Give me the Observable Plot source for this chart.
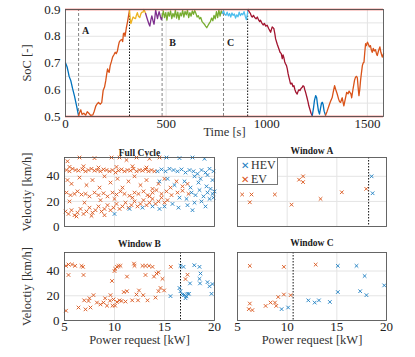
<!DOCTYPE html>
<html><head><meta charset="utf-8">
<script src="https://cdn.jsdelivr.net/npm/d3@7"></script>
<script src="https://cdn.jsdelivr.net/npm/@observablehq/plot@0.6"></script>
<style>
body{margin:0;background:#fff;}
#wrap{position:relative;width:415px;height:357px;overflow:hidden;font-family:"Liberation Serif",serif;background:#fff;}
.p{position:absolute;}
.p svg{overflow:visible;font-family:"Liberation Serif",serif !important;}
.p svg text{font-family:"Liberation Serif",serif;}
.legend{position:absolute;left:237px;top:157px;width:41px;height:28px;border:1px solid #777;background:#fff;box-sizing:border-box;font-size:12px;line-height:12px;padding:1px 0 0 3px;color:#333;}
.legend span{font-size:10px;margin-right:2px;}
</style></head><body><div id="wrap"></div>
<script>
// ---------- SoC trajectory segments [time s, SoC] ----------
const seg1 = [[0,0.70],[8,0.685],[14,0.665],[18,0.65],[26,0.635],[35,0.605],[45,0.575],[55,0.54],[65,0.502]];
const seg2 = [[65,0.502],[70,0.515],[76,0.525],[82,0.508],[91,0.512],[100,0.505],[108,0.518],[116,0.512],[125,0.504],[136,0.506],[143,0.52],[151,0.54],[158,0.548],[164,0.553],[172,0.546],[180,0.552],[187,0.597],[194,0.61],[200,0.634],[205,0.66],[209,0.678],[213,0.668],[217,0.665],[222,0.69],[228,0.705],[234,0.722],[240,0.73],[247,0.74],[252,0.735],[258,0.745],[263,0.765],[267,0.778],[273,0.785],[280,0.788],[284,0.78],[288,0.81],[292,0.812],[296,0.80],[302,0.83],[308,0.853],[313,0.875],[318,0.898]];
const seg3 = [[318,0.898],[322,0.86],[325,0.847],[330,0.86],[336,0.872],[342,0.868],[348,0.866],[352,0.878],[357,0.888],[362,0.875],[369,0.87],[375,0.885],[380,0.89],[385,0.89],[390,0.9],[398,0.885]];
const seg4 = [[398,0.885],[404,0.87],[410,0.856],[415,0.845],[419,0.838],[424,0.86],[429,0.876],[434,0.86],[440,0.845],[444,0.87],[448,0.898],[453,0.88],[457,0.866],[461,0.88],[465,0.892],[471,0.875],[476,0.862],[480,0.872]];
const seg5 = [[480,0.872],[486,0.895],[492,0.87],[498,0.888],[504,0.86],[510,0.89],[516,0.875],[522,0.895],[528,0.866],[534,0.885],[540,0.872],[546,0.898],[552,0.868],[558,0.89],[564,0.862],[570,0.887],[576,0.876],[582,0.897],[588,0.872],[594,0.893],[600,0.88],[606,0.898],[612,0.87],[618,0.888],[624,0.875],[630,0.895],[636,0.882],[642,0.896],[648,0.885],[654,0.872],[660,0.877],[666,0.865],[672,0.87],[678,0.856],[684,0.85],[690,0.845],[696,0.838],[702,0.832],[708,0.84],[714,0.848],[720,0.855],[726,0.868],[732,0.858],[738,0.878],[744,0.865],[750,0.892],[756,0.87],[762,0.898],[768,0.875],[774,0.895],[779,0.885]];
const seg6 = [[779,0.885],[785,0.895],[791,0.882],[797,0.878],[803,0.89],[809,0.876],[815,0.885],[821,0.872],[827,0.887],[833,0.878],[839,0.883],[845,0.868],[851,0.88],[857,0.873],[863,0.89],[869,0.877],[875,0.885],[881,0.88],[887,0.892],[893,0.875],[899,0.862],[904,0.885],[907,0.9]];
const seg7 = [[907,0.9],[912,0.893],[918,0.886],[924,0.875],[928,0.872],[934,0.878],[940,0.87],[947,0.865],[953,0.872],[960,0.86],[965,0.855],[969,0.86],[975,0.85],[982,0.842],[988,0.848],[995,0.838],[1002,0.841],[1010,0.828],[1019,0.815],[1027,0.835],[1035,0.829],[1040,0.81],[1044,0.79],[1052,0.77],[1060,0.753],[1066,0.74],[1072,0.735],[1077,0.716],[1081,0.73],[1085,0.72],[1089,0.705],[1093,0.697],[1098,0.69],[1102,0.678],[1106,0.66],[1110,0.647],[1114,0.635],[1118,0.622],[1125,0.625],[1130,0.612],[1135,0.615],[1140,0.6],[1145,0.59],[1151,0.584],[1156,0.595],[1160,0.6],[1165,0.597],[1170,0.605],[1176,0.609],[1180,0.615],[1185,0.612],[1189,0.6],[1193,0.59],[1200,0.57],[1205,0.555],[1209,0.54],[1215,0.525],[1220,0.512],[1226,0.503]];
const seg8 = [[1226,0.503],[1232,0.53],[1237,0.56],[1243,0.578],[1248,0.57],[1252,0.545],[1257,0.52],[1262,0.509],[1267,0.53],[1272,0.55],[1276,0.553],[1280,0.545],[1285,0.52],[1292,0.505]];
const seg9 = [[1292,0.505],[1300,0.52],[1309,0.54],[1316,0.555],[1325,0.571],[1330,0.59],[1337,0.615],[1343,0.6],[1350,0.584],[1357,0.565],[1362,0.555],[1367,0.553],[1372,0.565],[1375,0.57],[1380,0.55],[1383,0.54],[1390,0.565],[1397,0.59],[1404,0.585],[1409,0.595],[1413,0.59],[1418,0.585],[1422,0.57],[1428,0.6],[1436,0.635],[1441,0.647],[1446,0.65],[1450,0.645],[1455,0.6],[1458,0.578],[1462,0.6],[1466,0.635],[1470,0.66],[1475,0.69],[1479,0.7],[1483,0.703],[1487,0.74],[1491,0.772],[1495,0.765],[1500,0.778],[1505,0.77],[1510,0.76],[1515,0.765],[1520,0.748],[1524,0.74],[1529,0.755],[1534,0.745],[1540,0.75],[1545,0.735],[1549,0.728],[1555,0.745],[1562,0.76],[1567,0.74],[1574,0.722],[1580,0.735]];
const segments = [seg1, seg2, seg3, seg4, seg5, seg6, seg7, seg8, seg9];
const segColors = ["#0072BD","#D95319","#EDB120","#7E2F8E","#77AC30","#4DBEEE","#A2142F","#0072BD","#D95319"];

const socLimits = [0.5, 0.9];
const windowStarts = [65, 480, 785];
const windowEnds = [318, 905];
const windowLabels = [{t:100, s:0.82, text:"A"},{t:532, s:0.776, text:"B"},{t:820, s:0.776, text:"C"}];
const timeTicks = [0, 500, 1000, 1500];
const socTicks = [0.5, 0.6, 0.7, 0.8, 0.9];
const socGrid = [0.55, 0.6, 0.65, 0.7, 0.75, 0.8, 0.85];

// ---------- Scatter data [power kW, velocity km/h] ----------
const fullEV = [[5.3,52],[6.5,55],[8,54.5],[9.7,55],[10.5,55],[11.2,53],[12.2,55],[13.5,54],[14.5,55],
[5.2,45],[5.5,44],[5.8,46],[6.1,45],[6.4,44.5],[6.8,45.5],[7.1,44],[7.4,45],[7.7,46],[8.0,44.5],[8.3,45],[8.6,44],[8.9,45.5],[9.2,45],[9.5,44],[9.8,45],[10.1,43],[10.4,44.5],[10.7,45.5],[11.0,44],[11.3,45],[11.6,44.5],[11.9,46],[12.2,44],[12.5,45],[12.8,44.5],[13.1,45.5],[13.4,44],[13.7,45],[14.0,44],
[5.5,47.5],[6.9,48],[8.4,47],[10.2,47.5],[11.8,48],[13.2,47],
[5.3,37],[5.7,34],[6.5,39],[7.2,33],[7.8,37],[8.5,31],[9.0,40],[9.6,35],[10.3,38],[10.8,31],[11.4,36],[12.0,40],[12.6,33],[13.2,37],[13.8,30],[14.4,34],[15.0,38],[15.6,31],[16.2,36],[16.8,32],[17.3,34],
[5.2,27],[5.6,25],[6.0,26],[6.3,28],[6.7,25.5],[7.1,26],[7.5,24],[8.0,27],[8.4,25],[8.9,26.5],[9.3,24],[9.8,27],[10.2,25.5],[10.6,28],[11.0,26],[11.5,24.5],[12.0,27],[12.4,26],[12.9,28],[13.3,25],[13.8,27],[14.2,29],[14.7,26],[15.2,28],[15.7,25],[16.3,27],[16.8,28.5],[17.4,26],
[5.1,12],[5.4,10],[5.7,13],[6.0,9],[6.3,11],[6.6,14],[6.9,10],[7.2,12],[7.5,15],[7.8,11],[8.1,13],[8.4,16],[8.7,12],[9.0,14],[9.3,17],[9.6,13],[9.9,15],[10.2,18],[10.5,14],[10.8,16],[11.1,19],[11.4,15],[11.7,17],[12.0,20],[12.3,16],[12.6,18],[12.9,21],[13.2,17],[13.5,19],[13.8,22],[14.1,18],[14.4,20],[14.7,23],[15.0,19],[15.3,21],
[5.5,20],[7.0,19],[8.6,21],[10.0,22],[11.8,23],[13.5,24],[6.2,8],[7.7,8.5],[9.0,9]];
const fullHEV = [[15.2,55],[16.5,54.5],[17.8,55],[19.0,54],
[14.3,44],[14.7,45.5],[15.1,44],[15.5,46],[15.9,45],[16.3,44],[16.7,45.5],[17.1,43],[17.5,45],[17.9,44],[18.3,42],[18.7,45],[19.1,43],[19.5,46],[19.9,44],[18.0,40],[18.6,38],[19.3,41],
[14.5,36],[15.3,38],[16.0,33],[17.0,36],[17.6,31],[18.4,35],[19.2,32],[19.8,37],
[16.5,23],[17.2,22],[17.7,27],[18.1,25],[18.5,29],[18.9,24],[19.3,27],[19.6,30],[19.8,26],[20.0,28],[19.9,23],[19.5,22],[18.7,20],[18.0,19],
[15.0,16],[15.8,18],[16.4,15],[17.3,17],[17.8,13],[19.1,16],[10.0,10],[11.5,14],[12.8,15],[13.8,16],[14.5,14]];
const winAEV = [[5.47,25.5],[6.41,25.5],[6.24,19.3],[8.76,25.5],[10.44,17.4],[11.2,37.3],[11.6,40],[11.6,35.4],[13.36,22],[15.5,27.3],[17.96,30]];
const winAHEV = [[18.5,40],[18.6,26.5]];
const winBEV = [[5.15,44.2],[5.4,45.3],[5.75,45.3],[6.06,44.2],[6.7,44.2],[6.85,43.4],[5.4,36.8],[6.9,36.8],[5.15,7.9],[6.4,10.5],[6.97,16.3],[7.4,15.8],[7.5,18],[7.9,20.5],[7.6,10.5],[7.1,9],[8.24,14.5],[8.6,13],[8.9,14.5],[9.06,18],[9.25,12],[9.6,20.5],[9.55,16],[9.8,12],[9.9,17],[10.0,40],[10.07,41.8],[9.75,32],[10.06,12],[10.25,15],[10.5,16.3],[10.7,15.8],[10.93,23],[11.1,15.3],[11.25,23.7],[11.25,35.5],[10.6,44.2],[10.25,43.4],[10.4,44.2],[11.77,16.3],[11.95,46],[12.0,44.2],[12.2,21],[12.35,16.3],[12.45,24.3],[12.8,44.2],[13.1,44.2],[13.3,16.3],[12.87,20.5],[13.45,44.2],[13.8,43.4],[13.95,35.5],[13.1,36.8],[14.1,18.5],[14.2,38],[14.4,39],[14.4,23.7],[14.6,26.3],[14.8,33.7],[14.96,24.3],[15.63,43.4],[17.3,37],[17.1,33.5]];
const winBHEV = [[15.6,19.7],[16.6,44.2],[16.9,43.4],[16.5,26.3],[16.6,23.7],[16.8,21],[16.95,20.5],[17.1,18],[17.3,21.6],[17.45,21.6],[17.55,30],[17.98,44.7],[18.5,43.4],[18.6,38],[18.5,33.7],[18.55,30],[19.3,31],[19.5,27.7],[19.8,29.5],[19.7,21.6],[17.2,19.5]];
const winCEV = [[6.24,44.2],[9.67,43.4],[12.87,45.2],[6.24,13.7],[6.14,9.2],[6.5,8.4],[7.83,11.8],[8.33,14.5],[8.77,14.5],[8.9,11.8],[9.1,19],[9.67,21],[10.35,20.5]];
const winCHEV = [[9.44,9.2],[10.1,10.5],[12.13,16.3],[12.77,14.5],[13.2,16.3],[14.3,15],[15.1,23],[15.1,44.2],[16.98,44.2],[17.8,36],[17.35,23.7],[17.98,20.5],[19.77,28.4]];
const thresholds = {A: 18.2, B: 16.6, C: 10.6};
const powerTicks = [5, 10, 15, 20];
const velTicks = [0, 20, 40];

const EV = "#D95319", HEV = "#1b7ec2", RED = "#e8403a", GRID = "#e4e4e4", FRAME = "#555", TXT = "#333";
const FONT = "'Liberation Serif', serif";
const wrap = document.getElementById("wrap");
function place(el, left, top){ const d=document.createElement("div"); d.className="p"; d.style.left=left+"px"; d.style.top=top+"px"; d.appendChild(el); wrap.appendChild(d); }

// ---------- Top SoC chart ----------
const socRows = segments.flatMap((s, i) => s.map(([t, v]) => ({t, v, seg: i, color: segColors[i]})));
const topPlot = Plot.plot({
  width: 415, height: 145, marginLeft: 65, marginRight: 32, marginTop: 9, marginBottom: 29,
  style: {fontFamily: FONT, fontSize: "13px", color: "#222", background: "transparent", overflow: "visible"},
  x: {domain: [0, 1580], ticks: timeTicks, tickFormat: d => String(d), tickSize: 0, tickPadding: 2, label: null},
  y: {domain: [0.5, 0.9], ticks: socTicks, tickFormat: d3.format(".1f"), tickSize: 0, tickPadding: 5, label: null},
  marks: [
    Plot.ruleX(timeTicks.slice(1), {stroke: GRID, strokeWidth: 1}),
    Plot.ruleY(socGrid, {stroke: GRID, strokeWidth: 1}),
    Plot.ruleX(windowStarts, {y1: socLimits[0], y2: socLimits[1], stroke: "#777", strokeWidth: 0.9, strokeDasharray: "3,2"}),
    Plot.ruleX(windowEnds, {y1: socLimits[0], y2: socLimits[1], stroke: "#111", strokeWidth: 1, strokeDasharray: "1.5,1.5"}),
    Plot.ruleY(socLimits, {x1: windowStarts[0], x2: windowEnds[1], stroke: "#111", strokeWidth: 1.2, strokeDasharray: "1.5,1.5"}),
    Plot.line(socRows, {x: "t", y: "v", z: "seg", stroke: "color", strokeWidth: 1.3, curve: "linear"}),
    Plot.ruleY(socLimits, {stroke: RED, strokeWidth: 1.3}),
    Plot.text(windowLabels, {x: "t", y: "s", text: "text", fontWeight: "bold", fontSize: 10, fill: "#222", fontFamily: FONT}),
    Plot.text(["Time [s]"], {frameAnchor: "bottom", dy: 19, fontSize: 12.5, fill: TXT, fontFamily: FONT}),
    Plot.text(["SoC [-]"], {frameAnchor: "left", textAnchor: "middle", lineAnchor: "middle", dx: -39, rotate: -90, fontSize: 12.5, fill: TXT, fontFamily: FONT}),
    Plot.frame({stroke: FRAME, strokeWidth: 0.9})
  ]
});
place(topPlot, 0, 0);

// ---------- Scatter panels ----------
function scatter(o){
  return Plot.plot({
    width: o.w, height: o.h, marginLeft: o.ml, marginRight: o.mr, marginTop: o.mt, marginBottom: o.mb,
    style: {fontFamily: FONT, fontSize: "13px", color: "#222", background: "transparent", overflow: "visible"},
    x: {domain: [5, 20], ticks: powerTicks, tickSize: 0, tickPadding: 1, label: null, axis: o.xAxis ? "bottom" : null},
    y: {domain: [0, 55], ticks: velTicks, tickSize: 0, tickPadding: 5, label: null, axis: o.yAxis ? "left" : null},
    marks: [
      Plot.ruleX([10, 15], {stroke: GRID, strokeWidth: 1}),
      Plot.ruleY([20, 40], {stroke: GRID, strokeWidth: 1}),
      o.thr != null ? Plot.ruleX([o.thr], {stroke: "#111", strokeWidth: 1, strokeDasharray: "1.5,1.5"}) : null,
      Plot.dot(o.ev, {x: d => d[0], y: d => d[1], symbol: "times", r: 1.8, stroke: EV, strokeWidth: 0.9}),
      Plot.dot(o.hev, {x: d => d[0], y: d => d[1], symbol: "times", r: 1.8, stroke: HEV, strokeWidth: 0.9}),
      Plot.text([o.title], {frameAnchor: "top", dy: o.tdy, fontWeight: "bold", fontSize: 9.5, fill: "#222", fontFamily: FONT}),
      o.yAxis ? Plot.text(["Veloctiy [km/h]"], {frameAnchor: "left", textAnchor: "middle", lineAnchor: "middle", dx: -38, rotate: -90, fontSize: 12.5, fill: TXT, fontFamily: FONT}) : null,
      o.xAxis ? Plot.text(["Power request [kW]"], {frameAnchor: "bottom", dy: 23, fontSize: 12.5, fill: TXT, fontFamily: FONT}) : null,
      Plot.frame({stroke: FRAME, strokeWidth: 0.9})
    ]
  });
}
place(scatter({w:220,h:100,ml:64,mr:6,mt:17,mb:14,ev:fullEV,hev:fullHEV,thr:null,title:"Full Cycle",tdy:-8,xAxis:false,yAxis:true}), 0, 140);
place(scatter({w:195,h:100,ml:17,mr:29,mt:17,mb:14,ev:winAEV,hev:winAHEV,thr:thresholds.A,title:"Window A",tdy:-10,xAxis:false,yAxis:false}), 220, 140);
place(scatter({w:220,h:121,ml:64,mr:6,mt:16,mb:37,ev:winBEV,hev:winBHEV,thr:thresholds.B,title:"Window B",tdy:-12,xAxis:true,yAxis:true}), 0, 236);
place(scatter({w:195,h:121,ml:17,mr:29,mt:16,mb:37,ev:winCEV,hev:winCHEV,thr:thresholds.C,title:"Window C",tdy:-13,xAxis:true,yAxis:false}), 220, 236);

// legend
const lg = document.createElement("div");
lg.className = "legend";
lg.innerHTML = '<div><span style="color:'+HEV+'">✕</span>HEV</div><div style="margin-top:1px"><span style="color:'+EV+'">✕</span>EV</div>';
wrap.appendChild(lg);
</script>
</body></html>
